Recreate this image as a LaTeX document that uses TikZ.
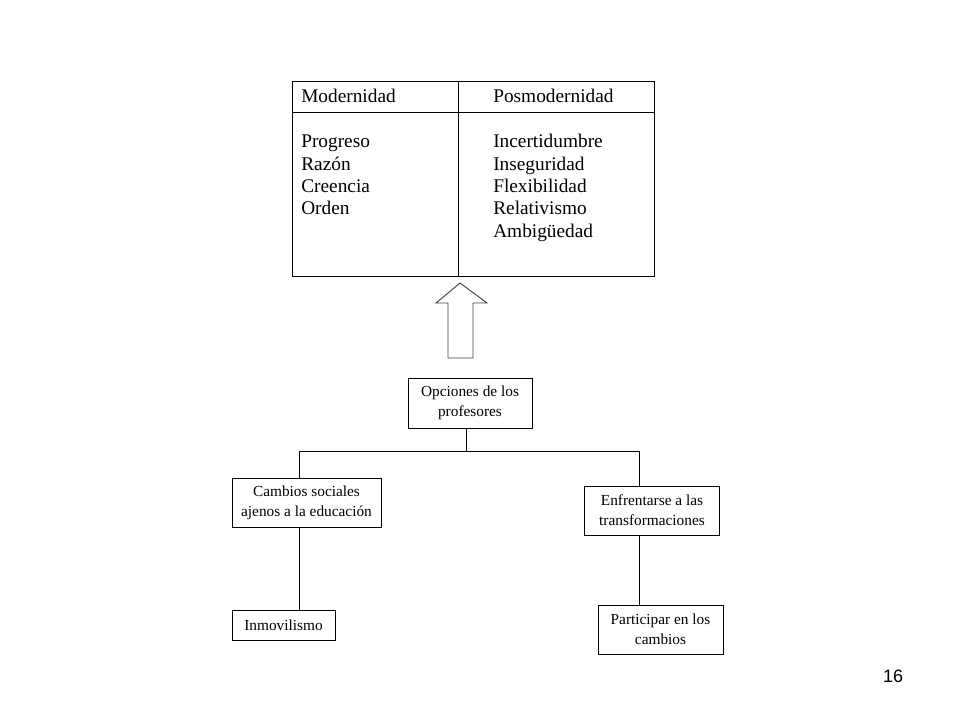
\documentclass[tikz,border=0pt]{standalone}
\usepackage{fontspec}
\setmainfont{Liberation Serif}
\newfontfamily\numfont{Liberation Sans}
\begin{document}
\begin{tikzpicture}[x=0.75pt,y=-0.75pt,
  box/.style={draw=black,line width=0.7pt,inner sep=0pt,align=center,font=\fontsize{11.5}{15}\selectfont},
  big/.style={anchor=base west,inner sep=0pt,font=\fontsize{14.5}{16.7}\selectfont},
  conn/.style={draw=black,line width=0.7pt}]
\useasboundingbox (0,0) rectangle (960,720);
% table
\node[draw=black,line width=0.7pt,inner sep=0pt,minimum width=271.5pt,minimum height=146.25pt] (tab) at (473,178.5) {};
\coordinate (hdrL) at (292,112);
\coordinate (hdrR) at (654,112);
\coordinate (divT) at (458,81);
\coordinate (divB) at (458,276);
\draw[conn] (hdrL) -- (hdrR);
\draw[conn] (divT) -- (divB);
\node[big] (mh) at (301,103) {Modernidad};
\node[big] (ph) at (493,103) {Posmodernidad};
\node[big] (m1) at (301,148) {Progreso};
\node[big] (m2) at (301,170.3) {Razón};
\node[big] (m3) at (301,192.6) {Creencia};
\node[big] (m4) at (301,214.9) {Orden};
\node[big] (p1) at (493,148) {Incertidumbre};
\node[big] (p2) at (493,170.3) {Inseguridad};
\node[big] (p3) at (493,192.6) {Flexibilidad};
\node[big] (p4) at (493,214.9) {Relativismo};
\node[big] (p5) at (493,237.2) {Ambigüedad};
% block arrow
\draw[draw=black!75,line width=0.7pt,line join=miter]
  (460,283) -- (487,303) -- (473,303) -- (473,358) -- (448,358) -- (448,303) -- (436,303) -- cycle;
% tree boxes
\node[box,minimum width=93pt,minimum height=37.5pt] (opc) at (470,403) {Opciones de los\\profesores};
\node[box,minimum width=111.75pt,minimum height=36.75pt] (cam) at (306.5,502.5) {Cambios sociales\\ajenos a la educación};
\node[box,minimum width=101.25pt,minimum height=36.75pt] (enf) at (652,510.5) {Enfrentarse a las\\transformaciones};
\node[box,minimum width=77.25pt,minimum height=22.5pt] (inm) at (283.5,625) {Inmovilismo};
\node[box,minimum width=93.75pt,minimum height=36.75pt] (par) at (660.5,629.5) {Participar en los\\cambios};
% connectors
\coordinate (mx) at (466,451);
\coordinate (lx) at (299,451);
\coordinate (rx) at (639,451);
\draw[conn] (mx |- opc.south) -- (mx);
\draw[conn] (lx |- cam.north) -- (lx) -- (rx) -- (rx |- enf.north);
\draw[conn] (lx |- cam.south) -- (lx |- inm.north);
\draw[conn] (rx |- enf.south) -- (rx |- par.north);
% page number
\node[inner sep=0pt,font=\numfont\fontsize{13.5}{16}\selectfont] (pn) at (893,676) {16};
\end{tikzpicture}
\end{document}
